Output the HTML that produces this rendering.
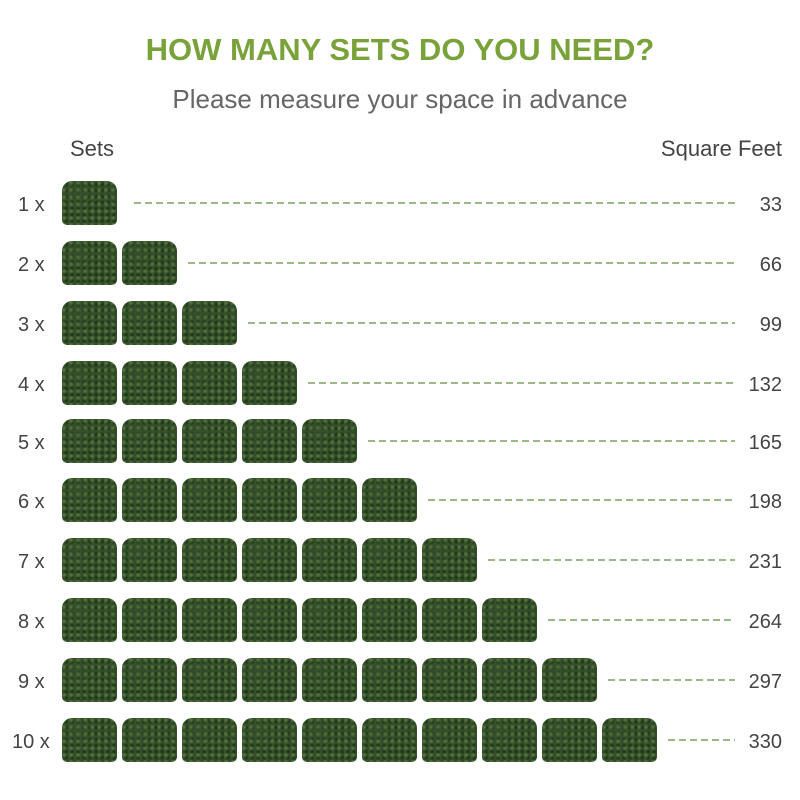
<!DOCTYPE html>
<html><head><style>
body{margin:0;width:800px;height:800px;background:#fff;position:relative;font-family:"Liberation Sans",sans-serif;overflow:hidden}
.t{position:absolute;left:0;width:800px;text-align:center}
.b{position:absolute;width:55px;height:44px;border-radius:10px 10px 5px 5px;
background:radial-gradient(circle at 30% 30%,#5c7d44 0,transparent 3px) 0 0/7px 7px,radial-gradient(circle at 70% 60%,#1b2e14 0,transparent 3px) 0 0/6px 6px,#34502a}
.l{position:absolute;font-size:20px;color:#444}
svg{position:absolute;left:0;top:0}
</style></head><body>
<div class="t" style="top:32px;font-size:31px;font-weight:bold;color:#7aa23a">HOW MANY SETS DO YOU NEED?</div>
<div class="t" style="top:84px;font-size:26px;color:#666">Please measure your space in advance</div>
<div class="l" style="left:70px;top:136px;font-size:22px">Sets</div>
<div class="l" style="right:18px;top:136px;font-size:22px">Square Feet</div>
<script>
var ys=[203,263,323,383,441,500,560,620,680,740];var h='',L='';
for(var i=0;i<10;i++){var n=i+1,y=ys[i];
h+='<div class="l" style="left:'+(n==10?12:18)+'px;top:'+(y-9)+'px">'+n+' x</div>';
for(var j=0;j<n;j++)h+='<div class="b" style="left:'+(62+j*60)+'px;top:'+(y-22)+'px"></div>';
var s=62+(n-1)*60+55+(n==1?17:11);
L+='<line x1="'+s+'" y1="'+y+'" x2="735" y2="'+y+'"/>';
h+='<div class="l" style="right:18px;top:'+(y-9)+'px">'+(33*n)+'</div>';}
document.write(h+'<svg width="800" height="800"><g stroke="#7f9f63" stroke-width="1.5" stroke-dasharray="7,4">'+L+'</g></svg>');
</script>
</body></html>
